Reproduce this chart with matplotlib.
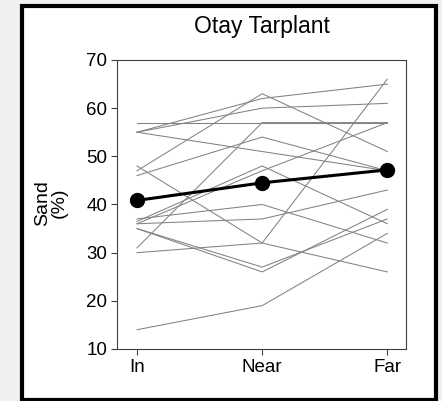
import matplotlib.pyplot as plt
import numpy as np
from matplotlib.patches import Rectangle

plt.rcParams['font.family'] = ['Liberation Sans', 'DejaVu Sans']

# Sand content (%) for each site, sampled in, near and far from the plants
positions = ['In', 'Near', 'Far']
sand_in = [14, 57, 31, 55, 55, 55, 47, 46, 48, 30, 37, 36, 36.5, 36, 35, 35]
sand_near = [19, 57, 57, 62, 60, 51, 63, 54, 32, 32, 40, 37, 48, 47, 27, 26]
sand_far = [34, 57, 57, 65, 61, 47, 51, 47, 66, 26, 32, 43, 36, 57, 37, 39]

sites = np.array([sand_in, sand_near, sand_far])
moyenne = sites.mean(axis=1)
x = np.arange(len(positions))

fig = plt.figure(figsize=(4.42, 4.01), dpi=100, facecolor='#f2f0ee')

# Cadre blanc à bord noir autour du graphique (derrière les axes)
cadre = Rectangle((0.0498, 0.003), 0.937, 0.981, transform=fig.transFigure,
                  facecolor='white', edgecolor='black', linewidth=3.0, zorder=-10)
fig.patches.append(cadre)

ax = fig.add_axes([0.2647, 0.1297, 0.654, 0.7207])
ax.set_facecolor('white')

# Une ligne grise par site
for k in range(sites.shape[1]):
    ax.plot(x, sites[:, k], color='#828282', linewidth=0.75, zorder=2)

# Moyenne des sites
ax.plot(x, moyenne, color='black', linewidth=2.2, marker='o', markersize=10, zorder=3)

ax.set_xlim(-0.16, 2.15)
ax.set_ylim(10, 70)
ax.set_xticks(x)
ax.set_xticklabels(positions)
ax.set_yticks(np.arange(10, 71, 10))

for s in ax.spines.values():
    s.set_color('#404040')
    s.set_linewidth(0.8)
ax.tick_params(direction='out', length=4, width=0.8, color='#404040', labelsize=13.5)
ax.tick_params(axis='x', pad=3)
ax.tick_params(axis='y', pad=3)

fig.text(51 / 442, 1 - 203 / 401, 'Sand\n(%)', rotation=90, ha='center', va='center',
         fontsize=14, linespacing=1.0)
fig.text(0.593, 0.933, 'Otay Tarplant', ha='center', va='center', fontsize=16.5)

plt.savefig('out.png', dpi=100, facecolor=fig.get_facecolor())
plt.close()
